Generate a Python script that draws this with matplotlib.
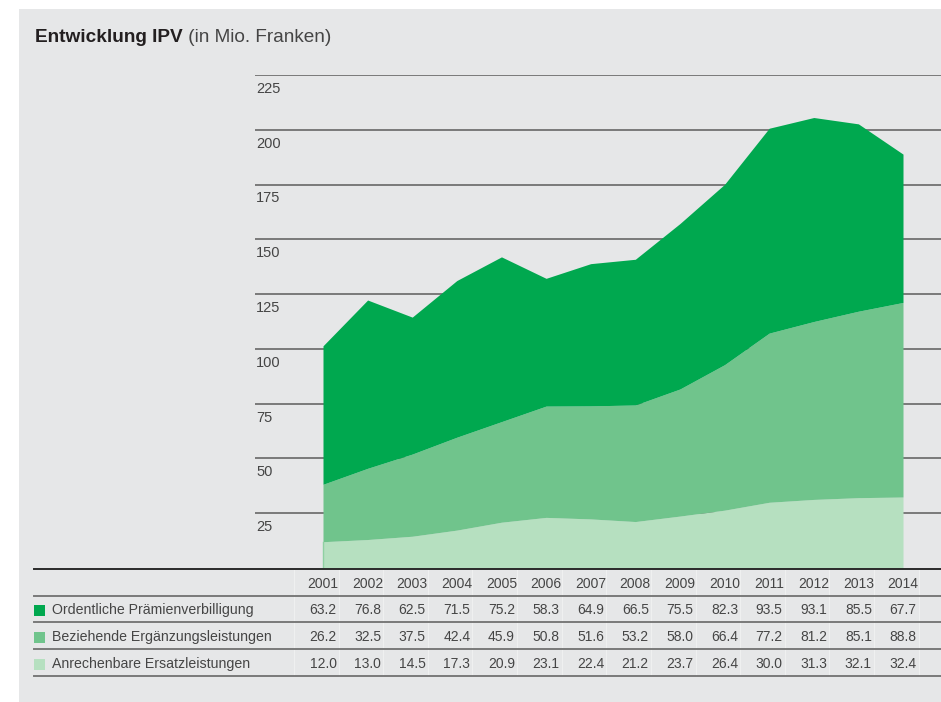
import matplotlib.pyplot as plt
from matplotlib.patches import Rectangle
from matplotlib.lines import Line2D
from matplotlib.transforms import blended_transform_factory

plt.rcParams['font.family'] = ['Liberation Sans', 'DejaVu Sans']

years = [2001, 2002, 2003, 2004, 2005, 2006, 2007, 2008, 2009, 2010, 2011, 2012, 2013, 2014]
praemien = [63.2, 76.8, 62.5, 71.5, 75.2, 58.3, 64.9, 66.5, 75.5, 82.3, 93.5, 93.1, 85.5, 67.7]
ergaenzung = [26.2, 32.5, 37.5, 42.4, 45.9, 50.8, 51.6, 53.2, 58.0, 66.4, 77.2, 81.2, 85.1, 88.8]
ersatz = [12.0, 13.0, 14.5, 17.3, 20.9, 23.1, 22.4, 21.2, 23.7, 26.4, 30.0, 31.3, 32.1, 32.4]
series_names = ['Ordentliche Prämienverbilligung', 'Beziehende Ergänzungsleistungen',
                'Anrechenbare Ersatzleistungen']
yticks = [25, 50, 75, 100, 125, 150, 175, 200, 225]

c_dark = '#00a84f'
c_mid = '#70c48c'
c_light = '#b6e0c0'
bg = '#e6e7e8'
txt = '#454545'

W, H = 941, 702
fig = plt.figure(figsize=(W / 100, H / 100), dpi=100)
fig.patch.set_facecolor('white')
fig.add_artist(Rectangle((19 / W, 0), 1 - 19 / W, 1 - 9 / H, transform=fig.transFigure,
                         facecolor=bg, edgecolor='none', zorder=0))

def fx(px):
    return px / W

def fy(py):
    return 1 - py / H

# chart axes: 2001 at px 323, 2014 at px 903, 0 at px 568, 225 at px 75
step = (903 - 323) / 13
ax = fig.add_axes([fx(255), fy(568), 1 - fx(255), (568 - 75) / H])
ax.set_xlim(2001 - (323 - 255) / step, 2014 + (W - 903) / step)
ax.set_ylim(0, 225)
ax.patch.set_alpha(0)
for s in ax.spines.values():
    s.set_visible(False)
ax.set_xticks([])
ax.set_yticks([])

for v in yticks:
    ax.axhline(v, color='#7a7a7a', lw=1.4, zorder=1)
    ax.annotate(str(v), xy=(0.002, v), xycoords=('axes fraction', 'data'),
                xytext=(0, -5), textcoords='offset points', va='top', ha='left',
                fontsize=10.5, color=txt)

s1 = ersatz
s2 = [a + b for a, b in zip(ersatz, ergaenzung)]
s3 = [a + b for a, b in zip(s2, praemien)]
ax.fill_between(years, 0, s1, color=c_light, lw=0, zorder=3)
ax.fill_between(years, s1, s2, color=c_mid, lw=0, zorder=3)
ax.fill_between(years, s2, s3, color=c_dark, lw=0, zorder=3)
ax.plot([2001, 2001], [0, s1[0]], color='#8fd0a2', lw=1, zorder=4)

# title
t1 = fig.text(fx(35), fy(37), 'Entwicklung IPV', fontsize=13.7, fontweight='bold',
              color='#231f20', va='center', ha='left')
plt.annotate(' (in Mio. Franken)', xy=(1, 0.5), xycoords=t1, va='center', ha='left',
             fontsize=13.7, color=txt)

# table
tr = blended_transform_factory(ax.transData, fig.transFigure)
line_y = [569, 596, 622, 649, 676]
for i, ly in enumerate(line_y):
    fig.add_artist(Line2D([fx(34), 1], [fy(ly), fy(ly)], transform=fig.transFigure,
                          color='#2a2a2a' if i == 0 else '#7a7a7a', lw=1.4, zorder=5))
for yr in [years[0] - 1] + years:
    fig.add_artist(Line2D([yr + 0.35, yr + 0.35], [fy(570), fy(676)], transform=tr,
                          color='white', lw=0.7, alpha=0.4, zorder=4))

row_y = [584, 610, 637, 664]
for yr in years:
    ax.text(yr, fy(row_y[0]), str(yr), transform=tr, ha='center', va='center',
            fontsize=10, color=txt, clip_on=False)
for r, (vals, name, col) in enumerate(zip([praemien, ergaenzung, ersatz], series_names,
                                          [c_dark, c_mid, c_light])):
    yy = fy(row_y[r + 1])
    fig.add_artist(Rectangle((fx(34), yy - 5.5 / H), 11 / W, 11 / H, transform=fig.transFigure,
                             facecolor=col, edgecolor='none', zorder=5))
    fig.text(fx(52), yy, name, fontsize=10.2, color=txt, va='center', ha='left')
    for yr, v in zip(years, vals):
        ax.text(yr, yy, f'{v:.1f}', transform=tr, ha='center', va='center',
                fontsize=10, color=txt, clip_on=False)

fig.savefig('out.png', dpi=100, facecolor=fig.get_facecolor())
